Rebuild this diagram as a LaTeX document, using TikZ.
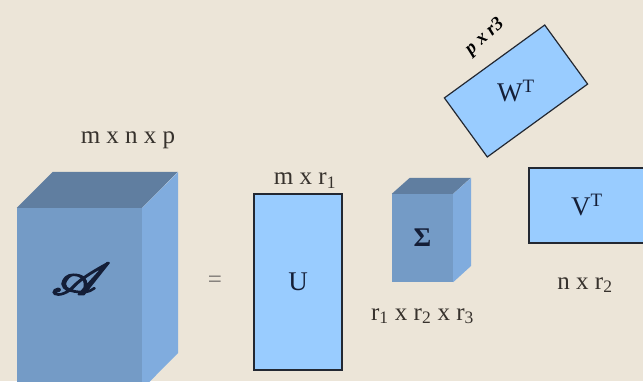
\documentclass[tikz,border=0pt]{standalone}
\usepackage{fontspec}
\setmainfont{Liberation Serif}
\usepackage{mathrsfs}
\usetikzlibrary{positioning}
\newcommand{\heavytext}[1]{\special{pdf:code 2 Tr 0.9 w}#1\special{pdf:code 0 Tr}}
\definecolor{tdBg}{RGB}{236,229,216}
\definecolor{tdCubeFront}{RGB}{116,155,198}
\definecolor{tdCubeTop}{RGB}{96,126,160}
\definecolor{tdCubeSide}{RGB}{128,172,222}
\definecolor{tdMatFill}{RGB}{153,204,255}
\definecolor{tdMatLine}{RGB}{35,40,50}
\definecolor{tdLabel}{RGB}{55,50,45}
\definecolor{tdSym}{RGB}{20,30,55}
\tikzset{
  cubefront/.style={rectangle, fill=tdCubeFront, draw=none, inner sep=0pt},
  cubetop/.style={fill=tdCubeTop},
  cubeside/.style={fill=tdCubeSide},
  matbox/.style={rectangle, fill=tdMatFill, draw=tdMatLine, line width=1.2pt, inner sep=0pt},
  dimlabel/.style={font=\fontsize{25}{28}\selectfont, text=tdLabel, inner sep=2pt},
  symlabel/.style={font=\fontsize{27}{30}\selectfont, text=tdSym, inner sep=1pt},
}
\begin{document}
\begin{tikzpicture}[x=1pt,y=1pt]
  \fill[tdBg] (0,0) rectangle (643,381);
  \useasboundingbox (0,0) rectangle (643,381);
  \clip (0,0) rectangle (643,381);

  \node[cubefront, minimum width=125pt, minimum height=181pt] (A) at (79.5,82.5) {};
  \fill[cubetop] (A.north west) -- ++(36,36) -- ++(125,0) -- (A.north east) -- cycle;
  \fill[cubeside] (A.north east) -- ++(36,36) -- ++(0,-181) -- (A.south east) -- cycle;
  \node[symlabel, font=\fontsize{24}{28}\selectfont] (Asym) at (81,102) {\scalebox{2.3}[1.8]{\heavytext{$\mathscr{A}$}}};
  \node[dimlabel] (Adim) at (128,241) {m x n x p};

  \node[dimlabel, text=tdLabel!70] (eq) at (215,99) {=};

  \node[matbox, minimum width=88pt, minimum height=176pt] (U) at (298,99) {};
  \node[symlabel] (Usym) at (U.center) {U};
  \node[dimlabel, above=3pt of U, xshift=7pt] (Udim) {m x r\textsubscript{1}};

  \node[cubefront, minimum width=61pt, minimum height=88pt] (S) at (422.5,143) {};
  \fill[cubetop] (S.north west) -- ++(18,16) -- ++(61,0) -- (S.north east) -- cycle;
  \fill[cubeside] (S.north east) -- ++(18,16) -- ++(0,-88) -- (S.south east) -- cycle;
  \node[symlabel] (Ssym) at (S.center) {\bfseries Σ};
  \node[dimlabel, below=24pt of S] (Sdim) {r\textsubscript{1} x r\textsubscript{2} x r\textsubscript{3}};

  \node[matbox, minimum width=124pt, minimum height=73pt, rotate=36] (W) at (516,290) {};
  \node[symlabel] (Wsym) at (W.center) {W\textsuperscript{T}};
  \node[dimlabel, font=\fontsize{19}{22}\selectfont\bfseries\itshape, text=black, rotate=42] (Wdim) at (485,344) {p x r3};

  \node[matbox, minimum width=116pt, minimum height=75pt] (V) at (587,175.5) {};
  \node[symlabel] (Vsym) at (V.center) {V\textsuperscript{T}};
  \node[dimlabel] (Vdim) at (585,96) {n x r\textsubscript{2}};
\end{tikzpicture}
\end{document}
